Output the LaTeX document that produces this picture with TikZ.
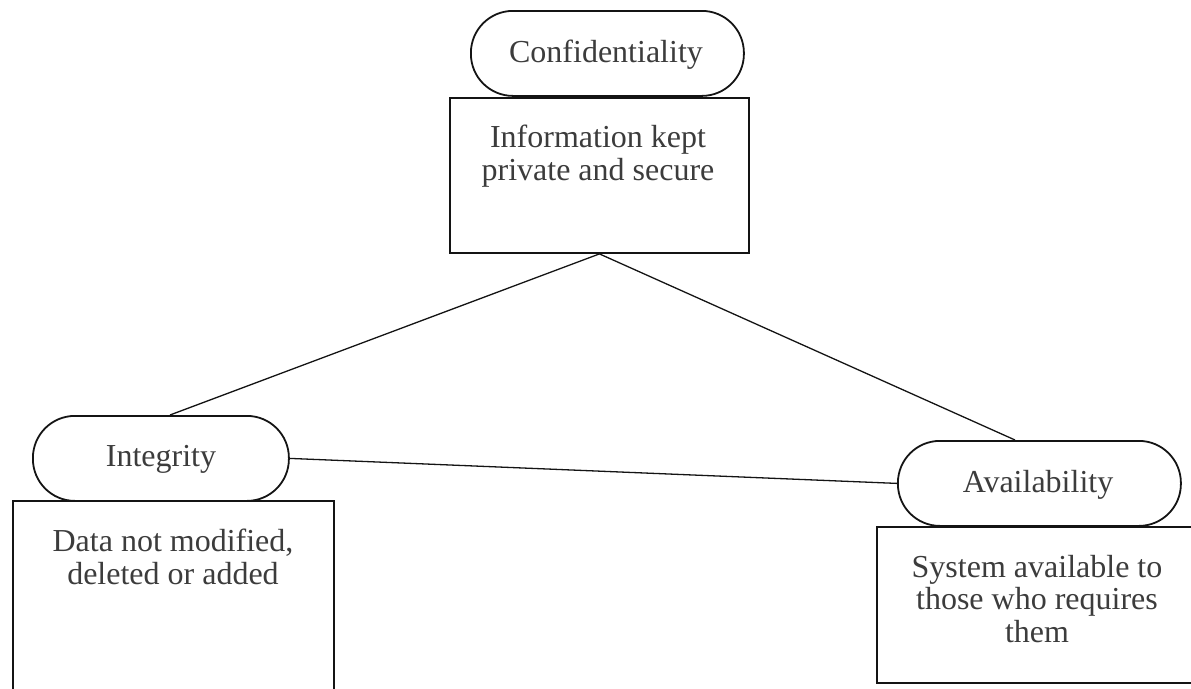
\documentclass[tikz,border=0pt]{standalone}
\usepackage{fontspec}
\setmainfont{Liberation Serif}
\definecolor{inkline}{RGB}{20,20,20}
\definecolor{inktext}{RGB}{60,60,60}
\begin{document}
\begin{tikzpicture}[x=1pt,y=-1pt,
  pill/.style={draw=inkline,line width=1.8pt,rounded corners=42pt,minimum width=#1,minimum height=85pt,inner sep=0pt,anchor=north west},
  infobox/.style={draw=inkline,line width=1.9pt,inner sep=0pt,anchor=north west},
  caption/.style={text=inktext,font=\fontsize{32}{32.5}\selectfont,inner sep=0pt,anchor=base,align=center},
  link/.style={draw=inkline,line width=1.3pt}]
\useasboundingbox (0,0) rectangle (1191,688);
% Confidentiality (base anchor of a multi-line caption sits on its last line)
\node[infobox,minimum width=299pt,minimum height=155pt] (cbox) at (449,97) {};
\node[pill=273pt] (conf) at (470,10) {};
\node[caption] (conft) at (606,62) {Confidentiality};
\node[caption] (cdesc) at (598,180) {Information kept\\private and secure};
% Integrity
\node[infobox,minimum width=321pt,minimum height=200pt] (ibox) at (12,500) {};
\node[pill=256pt] (integ) at (32,415) {};
\node[caption] (integt) at (161,466) {Integrity};
\node[caption] (idesc) at (173,584) {Data not modified,\\deleted or added};
% Availability
\node[infobox,minimum width=322pt,minimum height=156pt] (abox) at (876,526) {};
\node[pill=283pt] (avail) at (897,440) {};
\node[caption] (availt) at (1038,492) {Availability};
\node[caption] (adesc) at (1037,642) {System available to\\those who requires\\them};
% connectors
\draw[link] (cbox.south) -- (integ.north west -| 170,0);
\draw[link] (cbox.south) -- (avail.north west -| 1015,0);
\draw[link] (integ.east) -- (avail.west);
\end{tikzpicture}
\end{document}
